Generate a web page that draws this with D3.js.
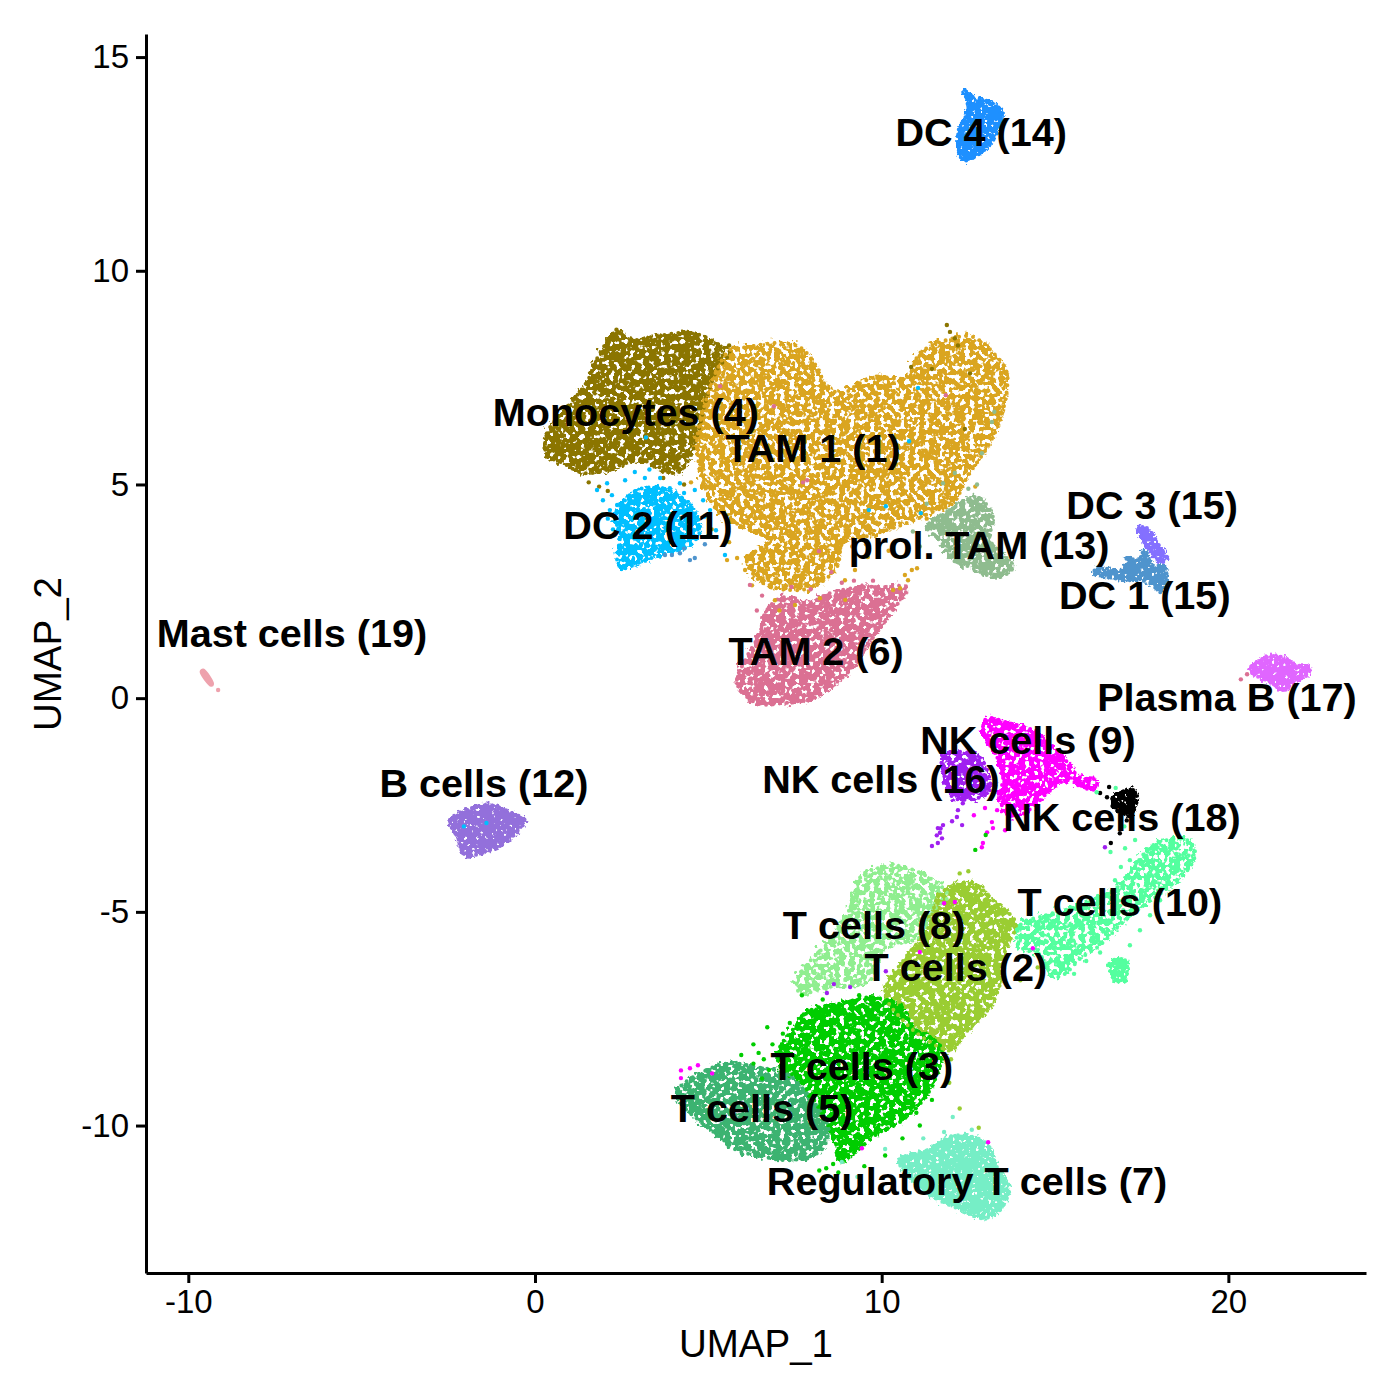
<!DOCTYPE html>
<html>
<head>
<meta charset="utf-8">
<script src="https://cdn.jsdelivr.net/npm/d3@7"></script>
<style>
  html, body { margin: 0; padding: 0; background: #fff; }
  svg { display: block; }
  text { font-family: "Liberation Sans", Arial, sans-serif; }
</style>
</head>
<body>
<div id="chart"></div>
<script>
// Cluster outlines, in UMAP units [UMAP_1, UMAP_2]
const monocytes = [[0.35,5.69],[0.35,6.20],[1.10,6.97],[1.50,7.40],[1.87,8.07],[2.37,8.57],[2.74,8.38],[3.40,8.45],[4.10,8.54],[4.76,8.50],[5.42,8.21],[5.62,8.10],[5.25,7.68],[4.96,7.04],[4.67,6.11],[4.47,5.64],[4.10,5.27],[3.03,5.57],[2.08,5.34],[1.38,5.27],[0.81,5.50]];
const tam1 = [[5.62,8.14],[6.11,8.21],[6.98,8.31],[7.64,8.21],[8.13,7.75],[8.42,7.28],[8.88,7.14],[9.37,7.37],[9.86,7.51],[10.73,7.51],[11.10,8.07],[11.88,8.38],[12.63,8.45],[13.33,7.98],[13.61,7.61],[13.50,6.74],[13.12,5.97],[12.46,5.17],[12.06,4.56],[11.59,4.40],[10.73,4.10],[9.66,3.81],[8.88,3.63],[8.71,3.07],[8.02,2.60],[7.36,2.53],[6.58,2.69],[6.11,3.23],[6.78,3.70],[6.20,3.93],[5.25,4.40],[4.85,5.10],[4.67,5.97],[4.96,7.04],[5.25,7.68]];
const tam2 = [[10.73,2.60],[10.33,2.06],[9.75,1.43],[9.09,0.66],[8.51,0.26],[8.02,0],[7.07,-0.12],[6.40,-0.12],[5.83,0.35],[6.11,0.96],[6.49,1.52],[6.69,2.06],[7.15,2.36],[7.85,2.22],[8.51,2.46],[9.46,2.60],[10.15,2.60]];
const dc2 = [[2.94,4.87],[3.69,4.91],[4.47,4.52],[4.76,3.93],[4.47,3.58],[3.61,3.35],[3.03,3.18],[2.51,3.04],[2.37,3.23],[2.45,3.81],[2.31,4.28],[2.60,4.63]];
const prolTam = [[11.31,4.00],[11.97,4.40],[12.75,4.70],[13.21,4.24],[13.12,3.70],[13.79,3.07],[13.33,2.83],[12.55,3.07],[12.06,3.23],[11.68,3.70]];
const dc3 = [[17.39,3.98],[17.65,3.98],[18.03,3.53],[18.23,3.28],[18.08,3.18],[17.74,3.46],[17.51,3.74]];
const dc1 = [[16.07,2.93],[16.30,3.04],[16.96,3.00],[17.08,3.28],[17.39,3.23],[17.59,3.46],[17.83,3.07],[18.11,3.11],[18.23,2.69],[18.03,2.48],[17.74,2.71],[17.16,2.76],[16.50,2.83]];
const plasmaB = [[20.62,0.66],[21.11,0.96],[21.57,0.96],[21.98,0.77],[22.35,0.73],[22.27,0.54],[21.86,0.37],[21.63,0.19],[21.20,0.37]];
const nk9 = [[13.04,-0.47],[13.70,-0.59],[14.36,-0.75],[15.14,-1.29],[15.72,-1.85],[16.21,-1.92],[16.09,-2.15],[15.34,-1.92],[14.77,-2.22],[14.36,-2.55],[13.79,-2.78],[13.41,-2.39],[13.50,-1.85],[13.33,-1.38],[13.04,-0.98],[12.92,-0.68]];
const nk16 = [[11.74,-1.38],[12.06,-1.26],[12.84,-1.40],[13.12,-2.15],[12.84,-2.32],[12.06,-2.32],[11.77,-1.68]];
const nk18 = [[16.67,-2.32],[17.25,-2.15],[17.36,-2.39],[17.16,-2.74],[16.96,-2.69],[16.67,-2.55]];
const t10 = [[14.02,-5.29],[14.74,-5.08],[15.75,-4.84],[16.87,-4.38],[17.83,-3.44],[18.81,-3.32],[19.04,-3.60],[18.89,-3.95],[18.17,-4.49],[17.57,-4.84],[16.87,-5.31],[16.30,-5.78],[15.75,-6.08],[15.23,-6.48],[14.94,-6.51],[14.57,-6.01],[13.93,-5.78]];
const t10Blob = [[16.58,-6.18],[17.02,-6.13],[17.02,-6.60],[16.73,-6.60]];
const t8 = [[9.43,-4.14],[9.89,-3.98],[10.50,-3.93],[11.39,-4.21],[11.91,-4.63],[11.51,-4.96],[11.10,-5.59],[10.10,-5.83],[9.66,-6.60],[8.45,-6.76],[7.64,-6.90],[7.56,-6.60],[7.96,-6.13],[8.45,-5.73],[9.06,-4.96],[9.26,-4.47]];
const t2 = [[11.71,-4.56],[12.60,-4.33],[13.21,-4.73],[13.87,-5.27],[13.56,-5.90],[13.47,-6.53],[13.12,-7.23],[12.40,-7.84],[12.00,-8.24],[11.31,-8.00],[10.70,-7.61],[10.10,-6.90],[10.70,-6.06],[11.31,-5.43]];
const t3 = [[9.69,-7.00],[10.59,-7.23],[10.90,-7.70],[11.71,-8.17],[11.39,-9.17],[10.59,-9.88],[9.89,-10.18],[9.26,-10.60],[8.80,-10.85],[8.65,-10.34],[7.64,-8.94],[7.05,-8.60],[7.05,-8.20],[7.50,-7.70],[7.96,-7.30],[8.85,-7.14]];
const t5 = [[4.12,-9.17],[4.93,-8.71],[5.62,-8.54],[6.43,-8.64],[7.24,-8.78],[7.76,-9.17],[8.45,-10.04],[8.25,-10.58],[7.36,-10.81],[6.43,-10.70],[5.83,-10.58],[5.34,-10.27],[4.73,-9.88],[4.21,-9.48]];
const treg = [[10.50,-10.81],[11.31,-10.58],[12.11,-10.23],[13.01,-10.41],[13.33,-10.98],[13.67,-11.44],[13.41,-11.98],[12.92,-12.17],[12.32,-11.98],[11.51,-11.68],[10.90,-11.28]];
const bCells = [[-2.45,-2.86],[-1.82,-2.57],[-1.30,-2.50],[-0.72,-2.67],[-0.29,-2.86],[-0.49,-3.09],[-0.87,-3.39],[-1.30,-3.56],[-2.02,-3.67],[-2.22,-3.28]];
const mast = [[-9.63,0.62],[-9.57,0.66],[-9.30,0.33],[-9.34,0.30]];
const dc4 = [[12.40,14.23],[12.63,14.06],[13.12,13.95],[13.47,13.71],[13.27,13.13],[12.84,12.75],[12.35,12.59],[12.20,13.22],[12.49,13.76]];

// Draw order, colour and how loosely packed each cluster looks
const clusterOutlines = [t8, t2, t3, t5, monocytes, tam1, tam2, dc2, prolTam, dc3, dc1, plasmaB, nk9, nk16, nk18, t10, t10Blob, treg, bCells, mast, dc4];
const clusterColors = ["#90EE90", "#9ACD32", "#00CD00", "#3CB371", "#8B7500", "#DAA520", "#DB7093", "#00BFFF", "#8FBC8F", "#8470FF", "#4F94CD", "#E066FF", "#FF00FF", "#A020F0", "#000000", "#54FF9F", "#54FF9F", "#76EEC6", "#9370DB", "#EEA2AD", "#1E90FF"];
const clusterTexture = ["loose", "mid", "mid", "mid", "mid", "loose", "mid", "mid", "mid", "tight", "tight", "tight", "mid", "mid", "tight", "loose", "tight", "tight", "tight", "none", "tight"];

// Stray cells that can be seen on their own
const strayGold = [[5.54,3.23],[6.06,3.00],[5.83,3.28],[6.26,2.64],[6.92,2.29],[7.50,2.18],[8.22,2.34],[8.94,2.76],[9.23,3.00],[10.67,2.88],[10.87,3.00],[11.02,3.04],[10.76,2.76],[10.53,2.57],[10.33,2.53],[9.60,3.30],[10.20,3.45],[12.60,8.30],[5.10,3.95],[5.60,3.65],[9.15,3.55],[9.55,3.60],[8.95,2.30],[7.05,2.05],[4.75,5.35],[4.50,5.05],[11.30,4.20],[12.70,4.95]];
const strayMono = [[11.88,8.73],[11.97,8.57],[12.11,8.42],[12.20,8.25],[11.45,7.70],[10.85,7.75],[12.55,7.60],[12.40,6.30],[2.35,8.62],[3.70,5.15],[4.30,5.00],[1.55,5.05],[1.85,4.95],[5.60,8.25],[2.10,4.85]];
const straySky = [[1.79,4.87],[1.96,4.63],[2.16,4.40],[2.37,4.52],[2.08,5.03],[2.22,4.75],[2.60,5.10],[2.88,5.29],[3.17,5.15],[3.61,5.15],[3.89,4.91],[4.18,5.03],[4.61,4.87],[4.85,4.63],[5.05,4.40],[5.22,3.93],[5.48,3.35],[11.05,7.26],[10.79,6.01],[9.63,4.40],[10.12,4.49],[11.13,4.33],[-2.05,-3.00],[-1.40,-2.92],[4.30,4.80],[4.90,4.25],[5.00,3.80],[3.30,5.35],[2.10,4.20],[2.25,3.95],[1.95,4.30],[3.20,6.10]];
const straySteel = [[3.95,3.35],[4.18,3.39],[4.47,3.23],[4.61,3.28],[3.75,3.35],[4.30,3.50],[4.90,3.60]];
const strayPink = [[5.34,7.30],[6.89,6.83],[7.73,5.05],[7.85,5.10],[8.19,3.44],[11.85,7.09],[20.36,0.44],[20.54,0.56],[12.20,3.30],[8.55,2.95],[8.85,2.70],[7.95,2.55],[7.40,2.60],[6.55,2.40],[6.40,2.05],[9.20,2.75],[9.75,2.75],[6.20,2.65]];
const straySage = [[13.18,6.46],[12.89,5.73],[12.11,5.27],[11.77,5.03],[13.25,6.70],[12.50,4.90],[11.30,4.55],[10.90,3.90],[11.10,3.55],[12.75,5.00]];
const strayMagenta = [[4.21,-8.71],[4.47,-8.66],[4.70,-8.59],[5.11,-8.78],[4.21,-8.89],[11.80,-4.80],[12.11,-4.77],[11.10,-5.94],[14.36,-5.85],[13.07,-10.39],[9.43,-10.53],[13.21,-3.04],[13.04,-3.14],[12.89,-3.49],[12.92,-3.39],[13.33,-2.62],[13.56,-3.09],[13.18,-2.90],[12.66,-2.74],[12.98,-2.57]];
const strayPurple = [[8.62,-6.69],[8.42,-6.90],[9.09,-6.76],[10.12,-6.39],[12.34,-2.46],[12.20,-2.62],[12.17,-2.78],[12.03,-2.88],[11.77,-2.97],[11.62,-3.04],[11.59,-3.21],[11.74,-3.28],[11.62,-3.39],[11.45,-3.46],[12.32,-2.97],[16.44,-3.49],[11.68,-3.15],[11.70,-3.05]];
const strayBlack = [[16.30,-2.22],[16.56,-2.08],[16.50,-2.32],[17.07,-2.86],[16.87,-3.16],[16.61,-3.39]];
const straySpring = [[17.16,-5.78],[17.45,-5.43],[17.74,-5.08],[18.03,-4.73],[17.31,-3.32],[17.02,-3.51],[17.16,-3.79],[16.73,-4.26],[16.90,-3.95],[16.20,-2.20],[16.75,-2.10],[17.00,-3.00],[16.60,-3.60],[15.90,-6.15],[16.30,-5.95],[15.55,-6.45]];
const strayLime = [[6.70,-7.70],[6.30,-8.10],[5.95,-8.35],[6.55,-8.90],[7.70,-6.95],[8.30,-7.05],[9.35,-6.95],[8.75,-11.10],[9.50,-10.95],[10.10,-10.70],[10.60,-10.30],[11.10,-10.00],[12.70,-3.55],[13.00,-3.20],[6.60,-8.45],[6.85,-8.10],[7.15,-7.85],[6.45,-8.30],[6.30,-8.55],[7.35,-7.60],[7.75,-7.40],[6.75,-8.70],[8.40,-11.00],[8.20,-11.05],[8.60,-10.90],[11.45,-9.40],[11.00,-9.70]];
const strayAqua = [[12.05,-9.80],[11.80,-10.15],[11.20,-10.30],[10.60,-10.75],[10.10,-10.55],[9.70,-11.05],[9.30,-11.20],[8.85,-10.85],[12.60,-10.10]];
const strayOlive = [[12.00,-8.45],[11.95,-9.00],[12.25,-9.60],[12.80,-10.05],[12.25,-4.10],[12.50,-4.05],[14.00,-6.60],[14.50,-6.30]];
const strayMast = [[-9.14,0.19]];
const strayOrchid = [[21.65,0.20]];

const strayPoints = [strayGold, strayMono, straySky, straySteel, strayPink, straySage, strayMagenta, strayPurple, strayBlack, straySpring, strayLime, strayAqua, strayOlive, strayMast, strayOrchid];
const strayColors = ["#DAA520", "#8B7500", "#00BFFF", "#4F94CD", "#DB7093", "#8FBC8F", "#FF00FF", "#A020F0", "#000000", "#54FF9F", "#00CD00", "#76EEC6", "#9ACD32", "#EEA2AD", "#E066FF"];

// Cluster labels and where they sit, in UMAP units
const labelTexts = ["DC 4 (14)", "Monocytes (4)", "TAM 1 (1)", "DC 3 (15)", "DC 2 (11)", "prol. TAM (13)", "DC 1 (15)", "Mast cells (19)", "TAM 2 (6)", "Plasma B (17)", "NK cells (9)", "NK cells (16)", "B cells (12)", "NK cells (18)", "T cells (10)", "T cells (8)", "T cells (2)", "T cells (3)", "T cells (5)", "Regulatory T cells (7)"];
const labelX = [12.87, 2.62, 8.02, 17.80, 3.26, 12.81, 17.59, -7.01, 8.11, 19.96, 14.22, 9.98, -1.47, 16.93, 16.87, 9.78, 12.14, 9.43, 6.55, 12.46];
const labelY = [13.22, 6.67, 5.83, 4.49, 4.03, 3.56, 2.39, 1.50, 1.08, 0, -1.01, -1.92, -2.01, -2.81, -4.80, -5.34, -6.32, -8.64, -9.62, -11.33];

const xTicks = [-10, 0, 10, 20];
const yTicks = [-10, -5, 0, 5, 10, 15];

const x = d3.scaleLinear().domain([-11.22, 23.97]).range([146, 1366]);
const y = d3.scaleLinear().domain([-13.45, 15.54]).range([1273, 34]);

const svg = d3.select("#chart").append("svg")
  .attr("width", 1400)
  .attr("height", 1400);

// Speckle and rough edge so the filled outlines read as packed points
const defs = svg.append("defs");
function addTexture(id, freq, gain, offset, rough, seed) {
  const f = defs.append("filter")
    .attr("id", id)
    .attr("x", "-15%").attr("y", "-15%")
    .attr("width", "130%").attr("height", "130%")
    .attr("color-interpolation-filters", "sRGB");
  f.append("feTurbulence")
    .attr("type", "fractalNoise")
    .attr("baseFrequency", freq)
    .attr("numOctaves", 2)
    .attr("seed", seed)
    .attr("result", "noise");
  f.append("feDisplacementMap")
    .attr("in", "SourceGraphic").attr("in2", "noise")
    .attr("scale", rough)
    .attr("xChannelSelector", "R").attr("yChannelSelector", "G")
    .attr("result", "moved");
  f.append("feColorMatrix")
    .attr("in", "noise").attr("type", "matrix")
    .attr("values", `0 0 0 0 0  0 0 0 0 0  0 0 0 0 0  ${gain} 0 0 0 ${offset}`)
    .attr("result", "mask");
  f.append("feComposite")
    .attr("in", "moved").attr("in2", "mask")
    .attr("operator", "in");
}
addTexture("loose", 0.2, 14, -5.6, 16, 3);
addTexture("mid", 0.2, 14, -4.9, 14, 8);
addTexture("tight", 0.25, 14, -3.6, 10, 5);

const outline = d3.line()
  .x(d => x(d[0]))
  .y(d => y(d[1]))
  .curve(d3.curveCatmullRomClosed.alpha(0.5));

svg.append("g").selectAll("path")
  .data(clusterOutlines)
  .join("path")
  .attr("d", outline)
  .attr("fill", (d, i) => clusterColors[i])
  .attr("stroke", (d, i) => clusterColors[i])
  .attr("stroke-width", 3)
  .attr("stroke-linejoin", "round")
  .attr("filter", (d, i) => clusterTexture[i] === "none" ? null : `url(#${clusterTexture[i]})`);

// Dotted rim, so the edge of each cluster breaks up into single points
svg.append("g").selectAll("path")
  .data(clusterOutlines)
  .join("path")
  .attr("d", outline)
  .attr("fill", "none")
  .attr("stroke", (d, i) => clusterColors[i])
  .attr("stroke-width", (d, i) => clusterTexture[i] === "none" ? 0 : 4)
  .attr("stroke-linecap", "round")
  .attr("stroke-dasharray", "0 7");

strayPoints.forEach((points, i) => {
  svg.append("g").selectAll("circle")
    .data(points)
    .join("circle")
    .attr("cx", d => x(d[0]))
    .attr("cy", d => y(d[1]))
    .attr("r", 2.2)
    .attr("fill", strayColors[i]);
});

svg.append("g").selectAll("text")
  .data(labelTexts)
  .join("text")
  .attr("x", (d, i) => x(labelX[i]))
  .attr("y", (d, i) => y(labelY[i]))
  .attr("dy", "0.33em")
  .attr("text-anchor", "middle")
  .attr("font-weight", "bold")
  .attr("font-size", 39.6)
  .attr("fill", "#000")
  .text(d => d);

const xAxis = svg.append("g")
  .attr("transform", `translate(0,${y.range()[0]})`)
  .call(d3.axisBottom(x).tickValues(xTicks).tickFormat(d => String(d)).tickSize(10).tickPadding(7).tickSizeOuter(0));
const yAxis = svg.append("g")
  .attr("transform", `translate(${x.range()[0]},0)`)
  .call(d3.axisLeft(y).tickValues(yTicks).tickFormat(d => String(d)).tickSize(10).tickPadding(7).tickSizeOuter(0));

[xAxis, yAxis].forEach(axis => {
  axis.selectAll("path, line").attr("stroke", "#000").attr("stroke-width", 3);
  axis.selectAll("text")
    .attr("fill", "#000")
    .attr("font-size", 33)
    .attr("font-family", "'Liberation Sans', Arial, sans-serif");
});

svg.append("text")
  .attr("x", 756)
  .attr("y", 1357)
  .attr("text-anchor", "middle")
  .attr("font-size", 38.5)
  .text("UMAP_1");

svg.append("text")
  .attr("transform", "translate(61,654) rotate(-90)")
  .attr("text-anchor", "middle")
  .attr("font-size", 38.5)
  .text("UMAP_2");
</script>
</body>
</html>
